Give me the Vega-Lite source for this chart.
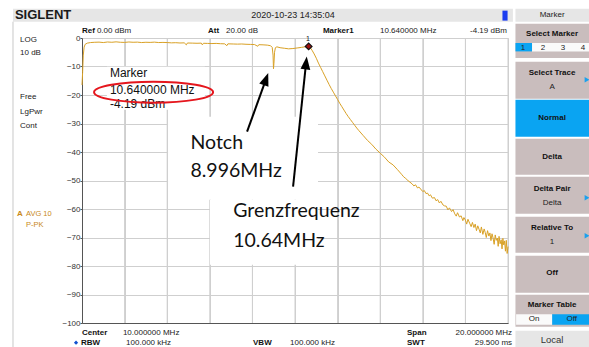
{
  "$schema": "https://vega.github.io/schema/vega-lite/v6.json",
  "width": 426,
  "height": 285,
  "autosize": {"type": "none"},
  "padding": {"left": 82, "top": 38, "right": 81, "bottom": 24},
  "background": "white",
  "config": {
    "view": {"stroke": null},
    "axisX": {"tickCount": 10, "grid": true, "gridColor": "#cfcfcf", "gridWidth": 1, "labels": false, "ticks": false, "domainColor": "#555555", "title": null},
    "axisY": {"tickCount": 10, "grid": true, "gridColor": "#cfcfcf", "gridWidth": 1, "domainColor": "#555555", "tickColor": "#555555", "tickSize": 2, "labelPadding": 0, "labelFont": "Liberation Sans", "labelFontSize": 8, "labelColor": "#333333", "title": null}
  },
  "datasets": {
    "vgrid": [
      {"x":2,"y":0,"y2":-100},{"x":4,"y":0,"y2":-100},{"x":6,"y":0,"y2":-100},{"x":8,"y":0,"y2":-100},{"x":10,"y":0,"y2":-100},
      {"x":12,"y":0,"y2":-100},{"x":14,"y":0,"y2":-100},{"x":16,"y":0,"y2":-100},{"x":18,"y":0,"y2":-100},{"x":20,"y":0,"y2":-100}
    ],
    "white_boxes": [
      {"x":1.17,"x2":5.77,"y":-10.07,"y2":-25.16},
      {"x":4.04,"x2":11.08,"y":-27.61,"y2":-56.74},
      {"x":6.01,"x2":11.08,"y":-56.74,"y2":-79.54}
    ],
    "trace": [
      {"f":0,"db":-16.5},{"f":0.03,"db":-12},{"f":0.06,"db":-6},{"f":0.1,"db":-3.2},{"f":0.15,"db":-2.2},{"f":0.25,"db":-1.8},{"f":0.4,"db":-1.6},{"f":0.6,"db":-1.5},{"f":0.8,"db":-1.45},{"f":1.0,"db":-1.6},{"f":1.2,"db":-1.4},{"f":1.4,"db":-1.5},{"f":1.6,"db":-1.35},{"f":1.8,"db":-1.5},{"f":2.0,"db":-1.55},{"f":2.2,"db":-1.4},{"f":2.4,"db":-1.5},{"f":2.6,"db":-1.45},{"f":2.8,"db":-1.6},{"f":3.0,"db":-1.5},{"f":3.2,"db":-1.55},{"f":3.4,"db":-1.45},{"f":3.6,"db":-1.6},{"f":3.8,"db":-1.55},{"f":4.0,"db":-1.6},{"f":4.2,"db":-1.7},{"f":4.4,"db":-1.65},{"f":4.6,"db":-1.75},{"f":4.8,"db":-1.7},{"f":4.9,"db":-2.4},{"f":4.95,"db":-1.75},{"f":5.2,"db":-1.8},{"f":5.4,"db":-1.85},{"f":5.6,"db":-1.8},{"f":5.65,"db":-2.4},{"f":5.7,"db":-1.85},{"f":5.9,"db":-1.9},{"f":6.1,"db":-1.95},{"f":6.3,"db":-1.9},{"f":6.5,"db":-2.0},{"f":6.7,"db":-2.05},{"f":6.8,"db":-2.7},{"f":6.85,"db":-2.05},{"f":7.1,"db":-2.1},{"f":7.3,"db":-2.15},{"f":7.5,"db":-2.1},{"f":7.7,"db":-2.2},{"f":7.9,"db":-2.25},{"f":8.1,"db":-2.3},{"f":8.25,"db":-2.9},{"f":8.3,"db":-2.35},{"f":8.5,"db":-2.4},{"f":8.7,"db":-2.5},{"f":8.85,"db":-2.7},{"f":8.93,"db":-3.3},{"f":8.97,"db":-6.0},{"f":8.99,"db":-10.8},{"f":9.01,"db":-9.0},{"f":9.04,"db":-5.0},{"f":9.08,"db":-3.4},{"f":9.15,"db":-3.1},{"f":9.3,"db":-3.4},{"f":9.5,"db":-3.6},{"f":9.7,"db":-3.8},{"f":9.9,"db":-3.7},{"f":10.1,"db":-3.5},{"f":10.3,"db":-3.3},{"f":10.5,"db":-3.05},{"f":10.64,"db":-2.95},
      {"f":10.72,"db":-3.4},{"f":10.8,"db":-4.3},{"f":10.9,"db":-5.6},{"f":11.0,"db":-7.1},{"f":11.1,"db":-8.8},{"f":11.2,"db":-10.3},{"f":11.3,"db":-11.8},{"f":11.4,"db":-13.3},{"f":11.5,"db":-14.8},{"f":11.6,"db":-16.3},{"f":11.7,"db":-17.7},{"f":11.8,"db":-19.0},{"f":11.9,"db":-20.3},{"f":12.0,"db":-21.6},{"f":12.1,"db":-22.9},{"f":12.2,"db":-24.1},{"f":12.3,"db":-25.3},{"f":12.4,"db":-26.5},{"f":12.5,"db":-27.6},{"f":12.6,"db":-28.6},{"f":12.7,"db":-29.6},{"f":12.8,"db":-30.6},{"f":12.9,"db":-31.6},{"f":13.0,"db":-32.5},{"f":13.2,"db":-34.2},{"f":13.4,"db":-35.9},{"f":13.6,"db":-37.3},{"f":13.8,"db":-39.0},{"f":14.0,"db":-40.4},{"f":14.2,"db":-41.8},{"f":14.4,"db":-43.5},{"f":14.6,"db":-44.5},{"f":14.8,"db":-46.1},{"f":15.0,"db":-47.8},
      {"f":15.1,"db":-48.7},{"f":15.2,"db":-49.3},{"f":15.3,"db":-50.0},{"f":15.4,"db":-50.6},{"f":15.5,"db":-51.2},{"f":15.58,"db":-51.9},{"f":15.66,"db":-51.5},{"f":15.75,"db":-52.6},{"f":15.82,"db":-52.3},{"f":15.9,"db":-53.0},{"f":16.0,"db":-53.9},{"f":16.07,"db":-53.5},{"f":16.15,"db":-54.6},{"f":16.22,"db":-54.4},{"f":16.3,"db":-55.4},{"f":16.36,"db":-55.0},{"f":16.45,"db":-56.2},{"f":16.55,"db":-56.0},{"f":16.62,"db":-57.1},{"f":16.7,"db":-56.7},{"f":16.78,"db":-57.9},{"f":16.85,"db":-57.3},{"f":16.95,"db":-58.6},{"f":17.02,"db":-58.9},{"f":17.1,"db":-59.0},{"f":17.18,"db":-60.3},{"f":17.25,"db":-59.6},{"f":17.35,"db":-60.9},{"f":17.42,"db":-60.2},{"f":17.5,"db":-61.7},{"f":17.57,"db":-62.5},{"f":17.63,"db":-61.3},{"f":17.72,"db":-62.8},{"f":17.8,"db":-62.4},{"f":17.88,"db":-64.1},{"f":17.93,"db":-63.0},{"f":18.0,"db":-63.9},{"f":18.06,"db":-65.3},{"f":18.12,"db":-63.6},{"f":18.2,"db":-65.0},{"f":18.27,"db":-66.2},{"f":18.33,"db":-64.7},{"f":18.4,"db":-66.5},{"f":18.46,"db":-65.3},{"f":18.52,"db":-67.6},{"f":18.58,"db":-65.9},{"f":18.64,"db":-67.1},{"f":18.7,"db":-68.4},{"f":18.75,"db":-66.3},{"f":18.82,"db":-68.9},{"f":18.88,"db":-67.0},{"f":18.93,"db":-68.2},{"f":18.98,"db":-70.0},{"f":19.04,"db":-67.6},{"f":19.1,"db":-69.5},{"f":19.15,"db":-68.4},{"f":19.2,"db":-71.1},{"f":19.25,"db":-68.7},{"f":19.3,"db":-70.2},{"f":19.35,"db":-72.4},{"f":19.4,"db":-69.1},{"f":19.45,"db":-71.0},{"f":19.5,"db":-70.2},{"f":19.54,"db":-73.1},{"f":19.58,"db":-69.6},{"f":19.63,"db":-72.2},{"f":19.68,"db":-70.8},{"f":19.72,"db":-74.0},{"f":19.76,"db":-70.3},{"f":19.8,"db":-72.6},{"f":19.84,"db":-71.2},{"f":19.88,"db":-74.8},{"f":19.92,"db":-71.0},{"f":19.96,"db":-75.6},{"f":20.0,"db":-73.2}
    ],
    "gray_boxes": [
      {"x":-3.24,"x2":20.23,"y":10.28,"y2":5.72},
      {"x":20.35,"x2":24,"y":10.28,"y2":5.72},
      {"x":20.35,"x2":24,"y":-102.7,"y2":-110}
    ],
    "taupe_boxes": [
      {"x":20.35,"x2":24,"y":5.02,"y2":-7.02},
      {"x":20.35,"x2":24,"y":-8.32,"y2":-21.3},
      {"x":20.35,"x2":24,"y":-35.33,"y2":-47.96},
      {"x":20.35,"x2":24,"y":-48.67,"y2":-61.65},
      {"x":20.35,"x2":24,"y":-62.7,"y2":-75.33},
      {"x":20.35,"x2":24,"y":-76.39,"y2":-89.37},
      {"x":20.35,"x2":24,"y":-90.07,"y2":-101.3}
    ],
    "blue_boxes": [
      {"x":20.35,"x2":24,"y":-21.65,"y2":-34.63},
      {"x":20.35,"x2":21.13,"y":-1.75,"y2":-4.7},
      {"x":22.07,"x2":24,"y":-96.91,"y2":-100.6}
    ],
    "white_cells": [
      {"x":21.13,"x2":24,"y":-1.75,"y2":-4.7},
      {"x":20.38,"x2":22.07,"y":-96.91,"y2":-100.6}
    ],
    "usb": [{"x":19.74,"x2":19.98,"y":9.6,"y2":6.1}],
    "frame": [{"x":-3.24,"y":5.72,"y2":-110}],
    "txt_reg": [
      {"x":0.7,"y":2.32,"t":"0.00 dBm"},{"x":6.76,"y":2.32,"t":"20.00 dB"},{"x":13.99,"y":2.32,"t":"10.640000 MHz"},
      {"x":-2.91,"y":-0.6,"t":"LOG"},{"x":-2.91,"y":-5.16,"t":"10 dB"},{"x":-2.91,"y":-20.6,"t":"Free"},{"x":-2.91,"y":-25.86,"t":"LgPwr"},{"x":-2.91,"y":-30.77,"t":"Cont"},
      {"x":1.92,"y":-103.4,"t":"10.000000 MHz"},{"x":9.77,"y":-106.91,"t":"100.000 kHz"}
    ],
    "txt_bold": [
      {"x":0,"y":2.32,"t":"Ref"},{"x":5.92,"y":2.32,"t":"Att"},{"x":11.31,"y":2.32,"t":"Marker1"},
      {"x":0,"y":-103.4,"t":"Center"},{"x":-0.05,"y":-106.91,"t":"RBW"},{"x":8.03,"y":-106.91,"t":"VBW"},{"x":15.26,"y":-103.4,"t":"Span"},{"x":15.26,"y":-106.91,"t":"SWT"}
    ],
    "txt_right": [
      {"x":19.95,"y":2.32,"t":"-4.19 dBm"},{"x":4.18,"y":-106.91,"t":"100.000 kHz"},{"x":20.19,"y":-103.4,"t":"20.000000 MHz"},{"x":20.19,"y":-106.91,"t":"29.500 ms"}
    ],
    "panel_bold": [
      {"x":22.07,"y":1.4,"t":"Select Marker"},{"x":22.07,"y":-12.28,"t":"Select Trace"},{"x":22.07,"y":-28.07,"t":"Normal"},{"x":22.07,"y":-41.75,"t":"Delta"},{"x":22.07,"y":-52.98,"t":"Delta Pair"},{"x":22.07,"y":-66.67,"t":"Relative To"},{"x":22.07,"y":-82.46,"t":"Off"},{"x":22.07,"y":-93.82,"t":"Marker Table"}
    ],
    "panel_reg": [
      {"x":22.07,"y":8.0,"t":"Marker"},{"x":22.07,"y":-17.19,"t":"A"},{"x":22.07,"y":-57.89,"t":"Delta"},{"x":22.07,"y":-71.72,"t":"1"},
      {"x":20.7,"y":-3.51,"t":"1"},{"x":21.64,"y":-3.51,"t":"2"},{"x":22.58,"y":-3.51,"t":"3"},{"x":23.52,"y":-3.51,"t":"4"},
      {"x":21.22,"y":-98.6,"t":"On"},{"x":22.99,"y":-98.6,"t":"Off"}
    ],
    "local": [{"x":22.07,"y":-105.86,"t":"Local"}],
    "orange_bold": [{"x":-3.05,"y":-61.65,"t":"A"}],
    "orange_reg": [{"x":-2.63,"y":-61.65,"t":"AVG 10"},{"x":-2.63,"y":-65.51,"t":"P-PK"}],
    "date": [{"x":9.91,"y":8.0,"t":"2020-10-23  14:35:04"}],
    "logo": [{"x":-3.15,"y":8.2,"t":"SIGLENT"}],
    "panel_arrows": [{"x":23.71,"y":-14.63},{"x":23.71,"y":-56.04},{"x":23.71,"y":-69.37}],
    "rbw_dot": [{"x":-0.28,"y":-106.91}],
    "marker_pt": [{"f":10.64,"db":-2.95}],
    "marker_num": [{"x":10.61,"y":-0.25,"t":"1"}],
    "ann_marker": [{"x":1.31,"y":-12.18,"t":"Marker"},{"x":1.31,"y":-18.39,"t":"10.640000 MHz"},{"x":1.31,"y":-23.16,"t":"-4.19 dBm"}],
    "ann_big": [{"x":5.09,"y":-36.84,"t":"Notch"},{"x":5.09,"y":-46.8,"t":"8.996MHz"},{"x":7.1,"y":-60.84,"t":"Grenzfrequenz"},{"x":7.1,"y":-71.37,"t":"10.64MHz"}],
    "ellipse": [{"x":3.36,"y":-19.02}],
    "arrow_shafts": [{"x":7.75,"y":-32.88,"x2":8.64,"y2":-14.42},{"x":9.91,"y":-52.18,"x2":10.52,"y2":-8.74}],
    "head_notch": [{"x":8.64,"y":-14.42}],
    "head_grenz": [{"x":10.52,"y":-8.74}]
  },
  "layer": [
    {
      "data": {"name": "vgrid"},
      "mark": {"type": "rule", "color": "#cfcfcf", "strokeWidth": 1},
      "encoding": {
        "x": {"field": "x", "type": "quantitative", "title": null, "scale": {"domain": [0, 20], "nice": false, "zero": false}},
        "y": {"field": "y", "type": "quantitative", "title": null, "scale": {"domain": [-100, 0], "nice": false, "zero": false}},
        "y2": {"field": "y2"}
      }
    },
    {
      "data": {"name": "white_boxes"},
      "mark": {"type": "rect", "color": "#ffffff"},
      "encoding": {"x": {"field": "x", "type": "quantitative", "title": null}, "x2": {"field": "x2"}, "y": {"field": "y", "type": "quantitative", "title": null}, "y2": {"field": "y2"}}
    },
    {
      "data": {"name": "trace"},
      "mark": {"type": "line", "color": "#d9a126", "strokeWidth": 1, "interpolate": "linear"},
      "encoding": {
        "x": {"field": "f", "type": "quantitative", "title": null},
        "y": {"field": "db", "type": "quantitative", "title": null}
      }
    },
    {
      "data": {"name": "gray_boxes"},
      "mark": {"type": "rect", "color": "#e6e6e6"},
      "encoding": {"x": {"field": "x", "type": "quantitative", "title": null}, "x2": {"field": "x2"}, "y": {"field": "y", "type": "quantitative", "title": null}, "y2": {"field": "y2"}}
    },
    {
      "data": {"name": "taupe_boxes"},
      "mark": {"type": "rect", "color": "#c9bdbd"},
      "encoding": {"x": {"field": "x", "type": "quantitative", "title": null}, "x2": {"field": "x2"}, "y": {"field": "y", "type": "quantitative", "title": null}, "y2": {"field": "y2"}}
    },
    {
      "data": {"name": "blue_boxes"},
      "mark": {"type": "rect", "color": "#0aa4f2"},
      "encoding": {"x": {"field": "x", "type": "quantitative", "title": null}, "x2": {"field": "x2"}, "y": {"field": "y", "type": "quantitative", "title": null}, "y2": {"field": "y2"}}
    },
    {
      "data": {"name": "white_cells"},
      "mark": {"type": "rect", "color": "#fafafa"},
      "encoding": {"x": {"field": "x", "type": "quantitative", "title": null}, "x2": {"field": "x2"}, "y": {"field": "y", "type": "quantitative", "title": null}, "y2": {"field": "y2"}}
    },
    {
      "data": {"name": "usb"},
      "mark": {"type": "rect", "color": "#1c3df0"},
      "encoding": {"x": {"field": "x", "type": "quantitative", "title": null}, "x2": {"field": "x2"}, "y": {"field": "y", "type": "quantitative", "title": null}, "y2": {"field": "y2"}}
    },
    {
      "data": {"name": "frame"},
      "mark": {"type": "rule", "color": "#c8c8c8", "strokeWidth": 1},
      "encoding": {"x": {"field": "x", "type": "quantitative", "title": null}, "y": {"field": "y", "type": "quantitative", "title": null}, "y2": {"field": "y2"}}
    },
    {
      "data": {"name": "txt_reg"},
      "mark": {"type": "text", "font": "Liberation Sans", "fontSize": 8, "color": "#222222", "align": "left", "baseline": "middle"},
      "encoding": {"x": {"field": "x", "type": "quantitative", "title": null}, "y": {"field": "y", "type": "quantitative", "title": null}, "text": {"field": "t"}}
    },
    {
      "data": {"name": "txt_bold"},
      "mark": {"type": "text", "font": "Liberation Sans", "fontSize": 8, "fontWeight": "bold", "color": "#111111", "align": "left", "baseline": "middle"},
      "encoding": {"x": {"field": "x", "type": "quantitative", "title": null}, "y": {"field": "y", "type": "quantitative", "title": null}, "text": {"field": "t"}}
    },
    {
      "data": {"name": "txt_right"},
      "mark": {"type": "text", "font": "Liberation Sans", "fontSize": 8, "color": "#222222", "align": "right", "baseline": "middle"},
      "encoding": {"x": {"field": "x", "type": "quantitative", "title": null}, "y": {"field": "y", "type": "quantitative", "title": null}, "text": {"field": "t"}}
    },
    {
      "data": {"name": "panel_bold"},
      "mark": {"type": "text", "font": "Liberation Sans", "fontSize": 8, "fontWeight": "bold", "color": "#111111", "align": "center", "baseline": "middle"},
      "encoding": {"x": {"field": "x", "type": "quantitative", "title": null}, "y": {"field": "y", "type": "quantitative", "title": null}, "text": {"field": "t"}}
    },
    {
      "data": {"name": "panel_reg"},
      "mark": {"type": "text", "font": "Liberation Sans", "fontSize": 8, "color": "#222222", "align": "center", "baseline": "middle"},
      "encoding": {"x": {"field": "x", "type": "quantitative", "title": null}, "y": {"field": "y", "type": "quantitative", "title": null}, "text": {"field": "t"}}
    },
    {
      "data": {"name": "local"},
      "mark": {"type": "text", "font": "Liberation Sans", "fontSize": 9.5, "color": "#333333", "align": "center", "baseline": "middle"},
      "encoding": {"x": {"field": "x", "type": "quantitative", "title": null}, "y": {"field": "y", "type": "quantitative", "title": null}, "text": {"field": "t"}}
    },
    {
      "data": {"name": "orange_bold"},
      "mark": {"type": "text", "font": "Liberation Sans", "fontSize": 8, "fontWeight": "bold", "color": "#c8891a", "align": "left", "baseline": "middle"},
      "encoding": {"x": {"field": "x", "type": "quantitative", "title": null}, "y": {"field": "y", "type": "quantitative", "title": null}, "text": {"field": "t"}}
    },
    {
      "data": {"name": "orange_reg"},
      "mark": {"type": "text", "font": "Liberation Sans", "fontSize": 7.5, "color": "#c8891a", "align": "left", "baseline": "middle"},
      "encoding": {"x": {"field": "x", "type": "quantitative", "title": null}, "y": {"field": "y", "type": "quantitative", "title": null}, "text": {"field": "t"}}
    },
    {
      "data": {"name": "date"},
      "mark": {"type": "text", "font": "Liberation Sans", "fontSize": 9, "color": "#222222", "align": "center", "baseline": "middle"},
      "encoding": {"x": {"field": "x", "type": "quantitative", "title": null}, "y": {"field": "y", "type": "quantitative", "title": null}, "text": {"field": "t"}}
    },
    {
      "data": {"name": "logo"},
      "mark": {"type": "text", "font": "Liberation Sans", "fontSize": 13, "fontWeight": "bold", "color": "#1a1a1a", "align": "left", "baseline": "middle"},
      "encoding": {"x": {"field": "x", "type": "quantitative", "title": null}, "y": {"field": "y", "type": "quantitative", "title": null}, "text": {"field": "t"}}
    },
    {
      "data": {"name": "panel_arrows"},
      "mark": {"type": "point", "shape": "triangle-right", "filled": true, "color": "#1aa0ee", "size": 30, "opacity": 1},
      "encoding": {"x": {"field": "x", "type": "quantitative", "title": null}, "y": {"field": "y", "type": "quantitative", "title": null}}
    },
    {
      "data": {"name": "rbw_dot"},
      "mark": {"type": "point", "shape": "diamond", "filled": true, "color": "#1050d0", "size": 18, "opacity": 1},
      "encoding": {"x": {"field": "x", "type": "quantitative", "title": null}, "y": {"field": "y", "type": "quantitative", "title": null}}
    },
    {
      "data": {"name": "marker_pt"},
      "mark": {"type": "point", "shape": "diamond", "filled": true, "fill": "#a01010", "stroke": "#111111", "strokeWidth": 1.2, "size": 45, "opacity": 1},
      "encoding": {"x": {"field": "f", "type": "quantitative", "title": null}, "y": {"field": "db", "type": "quantitative", "title": null}}
    },
    {
      "data": {"name": "marker_num"},
      "mark": {"type": "text", "font": "Liberation Sans", "fontSize": 7, "color": "#111111", "align": "center", "baseline": "middle"},
      "encoding": {"x": {"field": "x", "type": "quantitative", "title": null}, "y": {"field": "y", "type": "quantitative", "title": null}, "text": {"field": "t"}}
    },
    {
      "data": {"name": "ann_marker"},
      "mark": {"type": "text", "font": "Liberation Sans", "fontSize": 12, "color": "#111111", "align": "left", "baseline": "middle"},
      "encoding": {"x": {"field": "x", "type": "quantitative", "title": null}, "y": {"field": "y", "type": "quantitative", "title": null}, "text": {"field": "t"}}
    },
    {
      "data": {"name": "ann_big"},
      "mark": {"type": "text", "font": "Lato", "fontSize": 19.5, "color": "#111111", "align": "left", "baseline": "middle"},
      "encoding": {"x": {"field": "x", "type": "quantitative", "title": null}, "y": {"field": "y", "type": "quantitative", "title": null}, "text": {"field": "t"}}
    },
    {
      "data": {"name": "ellipse"},
      "mark": {"type": "point", "shape": "M-1,0A1,0.176,0,1,1,1,0A1,0.176,0,1,1,-1,0Z", "filled": false, "stroke": "#e5161d", "strokeWidth": 2, "size": 14161, "opacity": 1},
      "encoding": {"x": {"field": "x", "type": "quantitative", "title": null}, "y": {"field": "y", "type": "quantitative", "title": null}}
    },
    {
      "data": {"name": "arrow_shafts"},
      "mark": {"type": "rule", "color": "#000000", "strokeWidth": 2},
      "encoding": {"x": {"field": "x", "type": "quantitative", "title": null}, "y": {"field": "y", "type": "quantitative", "title": null}, "x2": {"field": "x2"}, "y2": {"field": "y2"}}
    },
    {
      "data": {"name": "head_notch"},
      "mark": {"type": "point", "shape": "M0,-1L0.75,1L-0.75,1Z", "filled": true, "color": "#000000", "size": 169, "angle": 19.6, "opacity": 1},
      "encoding": {"x": {"field": "x", "type": "quantitative", "title": null}, "y": {"field": "y", "type": "quantitative", "title": null}}
    },
    {
      "data": {"name": "head_grenz"},
      "mark": {"type": "point", "shape": "M0,-1L0.75,1L-0.75,1Z", "filled": true, "color": "#000000", "size": 169, "angle": 6, "opacity": 1},
      "encoding": {"x": {"field": "x", "type": "quantitative", "title": null}, "y": {"field": "y", "type": "quantitative", "title": null}}
    }
  ]
}
